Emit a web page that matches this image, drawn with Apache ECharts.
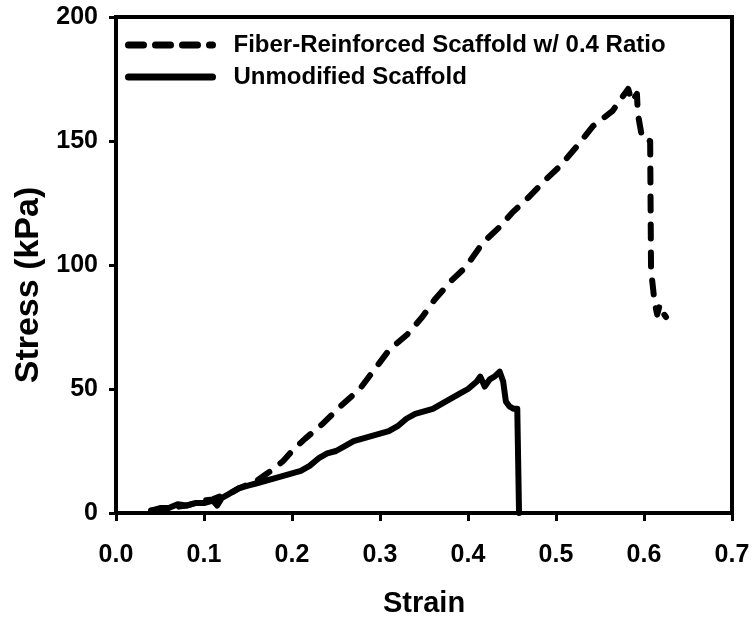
<!DOCTYPE html>
<html>
<head>
<meta charset="utf-8">
<script src="https://cdn.jsdelivr.net/npm/echarts@6/dist/echarts.min.js"></script>
<style>html,body{margin:0;padding:0;background:#fff}#c{width:752px;height:620px}</style>
</head>
<body>
<div id="c"></div>
<script>
var seriesNames = ['Fiber-Reinforced Scaffold w/ 0.4 Ratio', 'Unmodified Scaffold'];
var xTickLabels = ['0.0','0.1','0.2','0.3','0.4','0.5','0.6','0.7'];
var yTickLabels = ['0','50','100','150','200'];

var fiberStrain = [0.040,0.050,0.060,0.070,0.080,0.090,0.100,0.110,0.120,0.130,0.140,0.150,0.160,0.170,0.180,0.190,0.200,0.215,0.235,0.255,0.277,0.294,0.311,0.331,0.348,0.362,0.382,0.397,0.417,0.435,0.450,0.468,0.490,0.505,0.524,0.542,0.564,0.576,0.582,0.586,0.592,0.593,0.598,0.607,0.608,0.612,0.615,0.618,0.621,0.625];
var fiberStress = [1,1.5,2,2.5,3,4,5,5.5,7,8,10,11.5,13,15.5,18,21,25,30,36,43,50,58,66,72,79,86,94,99,109,115,121,127,135,140,148,156,162,168,171,166,169,161,151,150,98,85,80,84,81,79];

var plainStrain = [0.040,0.050,0.060,0.070,0.080,0.090,0.100,0.110,0.115,0.120,0.130,0.140,0.150,0.160,0.170,0.180,0.190,0.200,0.210,0.220,0.230,0.240,0.250,0.260,0.270,0.280,0.290,0.300,0.310,0.320,0.330,0.340,0.350,0.360,0.370,0.380,0.390,0.400,0.410,0.414,0.419,0.425,0.430,0.436,0.440,0.443,0.447,0.452,0.456,0.457,0.458];
var plainStress = [1,2,2,3.5,3,4,4,5,3,6,8,10,11,12,13,14,15,16,17,19,22,24,25,27,29,30,31,32,33,35,38,40,41,42,44,46,48,50,53,55,51,54,55,57,53,45,43,42,42,42,0];

function pairs(xs, ys){ return xs.map(function(x,i){ return [x, ys[i]]; }); }

var FONT = '"Liberation Sans", Arial, sans-serif';
var DASH = [14, 14];
var chart = echarts.init(document.getElementById('c'));
chart.setOption({
  animation: false,
  backgroundColor: '#fff',
  grid: { left: 116, right: 20, top: 17, bottom: 107, containLabel: false, outerBoundsMode: 'none',
    show: true, borderColor: '#000', borderWidth: 4, backgroundColor: 'transparent' },
  legend: {
    orient: 'vertical', left: 120, top: 28,
    itemWidth: 84, itemHeight: 20, itemGap: 8,
    itemStyle: { opacity: 0 },
    textStyle: { fontFamily: FONT, fontWeight: 'bold', fontSize: 24, color: '#000', lineHeight: 24, padding: [0,0,0,16] },
    data: [
      { name: seriesNames[0], lineStyle: { color: '#000', width: 7, type: [15, 12], cap: 'round' } },
      { name: seriesNames[1], lineStyle: { color: '#000', width: 7, type: 'solid', cap: 'round' } }
    ]
  },
  xAxis: {
    type: 'value', min: 0, max: 0.7, interval: 0.1,
    name: 'Strain', nameLocation: 'middle', nameGap: 76,
    nameTextStyle: { fontFamily: FONT, fontWeight: 'bold', fontSize: 29, color: '#000' },
    axisLine: { show: true, lineStyle: { color: '#000', width: 4 } },
    axisTick: { show: true, inside: false, length: 8, lineStyle: { color: '#000', width: 3 } },
    axisLabel: { margin: 30, fontFamily: FONT, fontWeight: 'bold', fontSize: 25, color: '#000',
      formatter: function(v){ return xTickLabels[Math.round(v*10)]; } },
    splitLine: { show: false }
  },
  yAxis: {
    type: 'value', min: 0, max: 200, interval: 50,
    name: 'Stress (kPa)', nameLocation: 'middle', nameGap: 66,
    nameTextStyle: { fontFamily: FONT, fontWeight: 'bold', fontSize: 34, color: '#000', padding: [0, 40, 0, 0] },
    axisLine: { show: true, lineStyle: { color: '#000', width: 4 } },
    axisTick: { show: true, inside: false, length: 7, lineStyle: { color: '#000', width: 3 } },
    axisLabel: { margin: 18, fontFamily: FONT, fontWeight: 'bold', fontSize: 25, color: '#000',
      formatter: function(v){ return yTickLabels[Math.round(v/50)]; } },
    splitLine: { show: false }
  },
  series: [
    { name: seriesNames[0], type: 'line', symbol: 'none', data: pairs(fiberStrain, fiberStress),
      lineStyle: { color: '#000', width: 6, type: DASH, cap: 'round', join: 'round' }, itemStyle: { color: '#000' } },
    { name: seriesNames[1], type: 'line', symbol: 'none', data: pairs(plainStrain, plainStress),
      lineStyle: { color: '#000', width: 6, type: 'solid', cap: 'round', join: 'round' }, itemStyle: { color: '#000' } }
  ]
});
</script>
</body>
</html>
